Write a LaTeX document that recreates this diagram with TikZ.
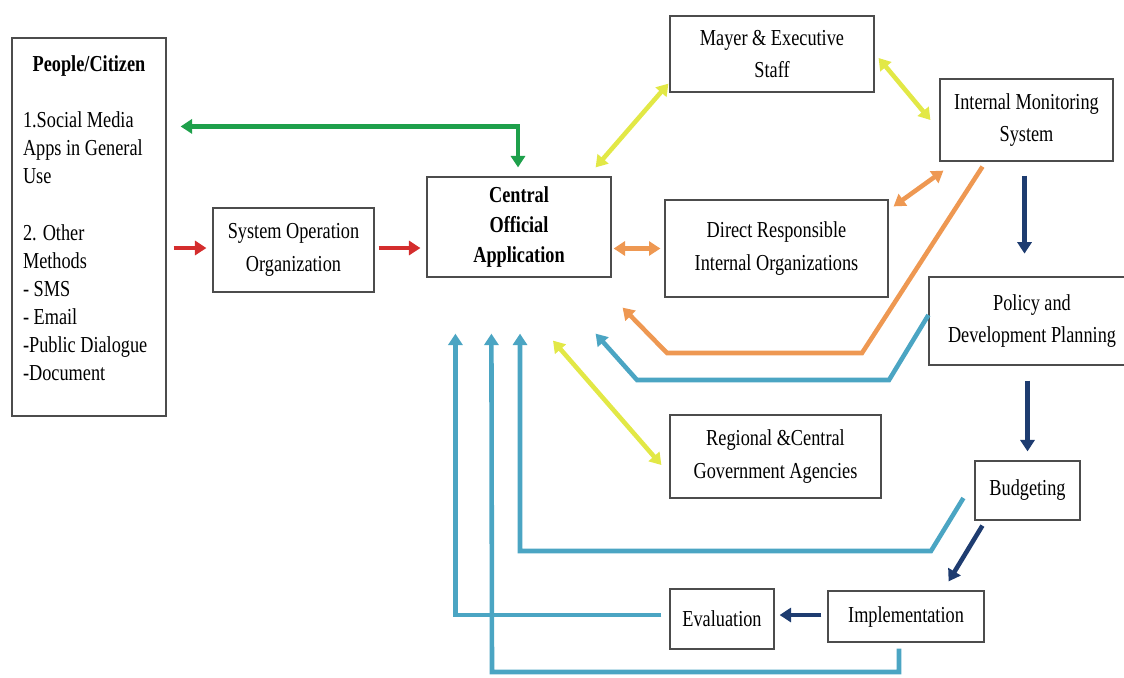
\documentclass[tikz,border=0pt]{standalone}
\usepackage{fontspec}
\setmainfont[FakeStretch=0.8]{Liberation Serif}
\usetikzlibrary{arrows.meta,calc}
\definecolor{flowgreen}{RGB}{30,160,75}
\definecolor{flowred}{RGB}{212,45,45}
\definecolor{floworange}{RGB}{238,152,82}
\definecolor{flowyellow}{RGB}{226,232,70}
\definecolor{flownavy}{RGB}{30,60,112}
\definecolor{flowteal}{RGB}{75,165,195}
\begin{document}
\begin{tikzpicture}[x=0.02cm,y=-0.02cm,>={Triangle[width=8pt,length=6.5pt]},
	box/.style={draw=black!70,line width=0.7pt,fill=white,align=center,inner sep=2pt,font=\fontsize{13}{18.5}\selectfont},
	link/.style={line width=2.6pt}]
	\clip (0,0) rectangle (1124,677);
	\node[box,align=flush left,font=\fontsize{13}{16}\selectfont,inner xsep=0.22cm,text width=2.64cm,minimum height=7.56cm] (people) at (89,227) {\makebox[2.64cm]{\textbf{People/Citizen}}\\[16pt]1.Social Media\\Apps in General\\Use\\[16pt]2. Other\\Methods\\- SMS\\- Email\\-Public Dialogue\\-Document\\[-6pt]\mbox{}};
	\node[box,minimum width=3.22cm,minimum height=1.68cm] (sysop) at (293.5,250) {System Operation\\Organization};
	\node[box,minimum width=3.68cm,minimum height=2cm,font=\fontsize{13}{16.8}\selectfont\bfseries] (central) at (519,227) {Central\\Official\\Application};
	\node[box,minimum width=4.08cm,minimum height=1.52cm] (mayer) at (772,54) {Mayer \& Executive\\Staff};
	\node[box,minimum width=3.46cm,minimum height=1.64cm] (monitor) at (1026.5,120) {Internal Monitoring\\System};
	\node[box,minimum width=4.46cm,minimum height=1.94cm] (direct) at (776.5,248.5) {Direct Responsible\\Internal Organizations};
	\node[box,minimum width=4.12cm,minimum height=1.76cm] (policy) at (1032,321) {Policy and\\Development Planning};
	\node[box,minimum width=4.22cm,minimum height=1.66cm] (regional) at (775.5,456.5) {Regional \&Central\\Government Agencies};
	\node[box,minimum width=2.1cm,minimum height=1.18cm] (budget) at (1027.5,490.5) {Budgeting};
	\node[box,minimum width=3.12cm,minimum height=1.02cm] (impl) at (906,616.5) {Implementation};
	\node[box,minimum width=2.08cm,minimum height=1.2cm] (eval) at (722,619) {Evaluation};
	\draw[link,flowgreen,<->] ($(people.north east)+(14,89)$) -| ($(central.north)+(-1,-9)$);
	\draw[link,flowred,->] ($(people.east |- sysop.west)+(7,-2)$) -- ($(sysop.west)+(-6,-2)$);
	\draw[link,flowred,->] ($(sysop.east)+(4,-2)$) -- ($(central.west |- sysop.east)+(-6,-2)$);
	\draw[link,floworange,<->] ($(central.east |- direct.west)+(2,0)$) -- ($(direct.west)+(-4,0)$);
	\draw[link,flowyellow,<->] ($(central.north east)+(-16,-9)$) -- ($(mayer.south west)+(-1,-9)$);
	\draw[link,flowyellow,<->] ($(mayer.east)+(4,4)$) -- ($(monitor.west)+(-9,0)$);
	\draw[link,floworange,<->] ($(direct.north east)+(5,7)$) -- ($(monitor.south west)+(4,9)$);
	\draw[link,flowyellow,<->] ($(central.south)+(34,63)$) -- ($(regional.west)+(-8,8.5)$);
	\draw[link,floworange,->] ($(monitor.south)+(-44,5)$) -- (862,353) -- (667,353) -- ($(central.south east)+(11,30)$);
	\draw[link,flowteal,->] ($(policy.west)+(0,-6)$) -- (889,380) -- (637,380) -- ($(central.south east)+(-16,56)$);
	\draw[link,flownavy,->] ($(monitor.south)+(-2,14)$) -- ($(monitor.south)+(-2,92)$);
	\draw[link,flownavy,->] ($(policy.south -| budget.north)+(0,15)$) -- ($(budget.north)+(0,-9)$);
	\draw[link,flownavy,->] ($(budget.south west)+(8,5)$) -- ($(impl.north east)+(-36,-9)$);
	\draw[link,flownavy,->] ($(impl.west)+(-6,-1.5)$) -- ($(eval.east)+(5,-4)$);
	\draw[link,flowteal,->] ($(budget.west)+(-11,7.5)$) -- (931,551) -- (520,551) -- ($(central.south)+(1,56)$);
	\draw[link,flowteal,->] ($(eval.west)+(-8,-4)$) -| ($(central.south west)+(29,56)$);
	\draw[link,flowteal,->] ($(impl.south)+(-7,6)$) -- (899,672) -- (492,672) -- ($(central.south west)+(65,56)$);
\end{tikzpicture}
\end{document}
